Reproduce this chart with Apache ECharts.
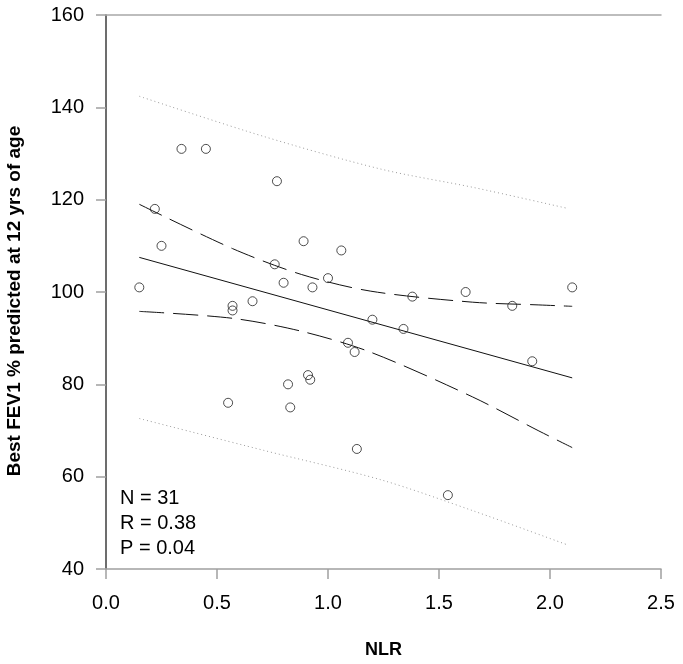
<!DOCTYPE html>
<html>
<head>
<meta charset="utf-8">
<script src="https://cdn.jsdelivr.net/npm/echarts@6/dist/echarts.min.js"></script>
<style>
html,body{margin:0;padding:0;background:#fff;}
#chart{width:683px;height:664px;}
</style>
</head>
<body>
<div id="chart"></div>
<script>
// Observed points
var nlr  = [0.15, 0.34, 0.45, 0.77, 0.22, 0.25, 0.89, 1.06, 0.76, 0.80, 0.93, 1.00, 0.57, 0.57, 0.66, 1.20,
            1.38, 1.62, 1.83, 2.10, 1.09, 1.12, 0.91, 0.92, 0.82, 0.83, 0.55, 1.13, 1.34, 1.92, 1.54];
var fev1 = [101, 131, 131, 124, 118, 110, 111, 109, 106, 102, 101, 103, 97, 96, 98, 94,
            99, 100, 97, 101, 89, 87, 82, 81, 80, 75, 76, 66, 92, 85, 56];
// Regression line
var fitX = [0.15, 2.10];
var fitY = [107.5, 81.4];
// 95% confidence band
var ciX     = [0.15, 0.57, 0.88, 1.19, 1.65, 1.95, 2.10];
var ciUpper = [119.0, 109.4, 103.8, 100.2, 97.8, 97.2, 96.9];
var ciLower = [95.8, 94.3, 91.5, 87.0, 77.3, 69.9, 66.3];
// 95% prediction band
var predX     = [0.15, 0.71, 1.24, 1.66, 2.08];
var predUpper = [142.4, 133.7, 126.6, 122.6, 118.1];
var predLower = [72.6, 65.7, 59.3, 52.5, 45.2];
// Axis ticks
var xTicks = [0.0, 0.5, 1.0, 1.5, 2.0, 2.5];
var yTicks = [40, 60, 80, 100, 120, 140, 160];
var statsText = ['N = 31', 'R = 0.38', 'P = 0.04'];
var yTitle = 'Best FEV1 % predicted at 12 yrs of age';
var xTitle = 'NLR';

function zip(a, b) { return a.map(function (v, i) { return [v, b[i]]; }); }

var FONT = '"Liberation Sans", Arial, sans-serif';
var chart = echarts.init(document.getElementById('chart'), null, {renderer: 'canvas'});

var option = {
  animation: false,
  backgroundColor: '#fff',
  grid: {left: 106, top: 15, width: 555, height: 556, containLabel: false},
  xAxis: [{
    type: 'value', min: xTicks[0], max: xTicks[xTicks.length - 1], interval: 0.5,
    position: 'bottom',
    name: xTitle, nameLocation: 'middle', nameGap: 72,
    nameTextStyle: {fontFamily: FONT, fontSize: 18, fontWeight: 'bold', color: '#000'},
    axisLine: {show: true, lineStyle: {color: '#a0a0a0', width: 1.5}},
    axisTick: {show: true, inside: false, length: 10, lineStyle: {color: '#a0a0a0', width: 1.5}},
    axisLabel: {margin: 24, fontFamily: FONT, fontSize: 20, color: '#000',
      formatter: function (v) { return v.toFixed(1); }},
    splitLine: {show: false}
  }, {
    type: 'value', min: xTicks[0], max: xTicks[xTicks.length - 1], position: 'top',
    axisLine: {show: true, lineStyle: {color: '#a8a8a8', width: 1.5}},
    axisTick: {show: false}, axisLabel: {show: false}, splitLine: {show: false}
  }],
  yAxis: [{
    type: 'value', min: yTicks[0], max: yTicks[yTicks.length - 1], interval: 20,
    position: 'left',
    axisLine: {show: true, lineStyle: {color: '#a0a0a0', width: 1.5}},
    axisTick: {show: true, inside: false, length: 10, lineStyle: {color: '#a0a0a0', width: 1.5}},
    axisLabel: {margin: 22, fontFamily: FONT, fontSize: 20, color: '#000'},
    splitLine: {show: false}
  }, {
    type: 'value', min: yTicks[0], max: yTicks[yTicks.length - 1], position: 'right',
    axisLine: {show: true, lineStyle: {color: '#555', width: 1.5}},
    axisTick: {show: false}, axisLabel: {show: false}, splitLine: {show: false}
  }],
  series: [
    {type: 'line', data: zip(predX, predUpper), smooth: 0.3, symbol: 'none',
     lineStyle: {color: '#9a9a9a', width: 1, type: [1, 3]}, z: 1},
    {type: 'line', data: zip(predX, predLower), smooth: 0.3, symbol: 'none',
     lineStyle: {color: '#9a9a9a', width: 1, type: [1, 3]}, z: 1},
    {type: 'line', data: zip(ciX, ciUpper), smooth: 0.3, symbol: 'none',
     lineStyle: {color: '#111', width: 1, type: [25, 9]}, z: 2},
    {type: 'line', data: zip(ciX, ciLower), smooth: 0.3, symbol: 'none',
     lineStyle: {color: '#111', width: 1, type: [25, 9]}, z: 2},
    {type: 'line', data: zip(fitX, fitY), symbol: 'none',
     lineStyle: {color: '#111', width: 1, type: 'solid'}, z: 2},
    {type: 'scatter', data: zip(nlr, fev1), symbol: 'circle', symbolSize: 9,
     itemStyle: {color: 'rgba(255,255,255,0)', borderColor: '#222', borderWidth: 1}, z: 3}
  ],
  graphic: statsText.map(function (t, i) {
    return {type: 'text', left: 120, top: 488 + i * 25,
      style: {text: t, font: '20px ' + FONT, fill: '#000'}};
  }).concat([{
    type: 'text', x: 15, y: 301, rotation: Math.PI / 2,
    style: {text: yTitle, font: 'bold 19px ' + FONT, fill: '#000',
      align: 'center', verticalAlign: 'middle'}
  }])
};
chart.setOption(option);
</script>
</body>
</html>
